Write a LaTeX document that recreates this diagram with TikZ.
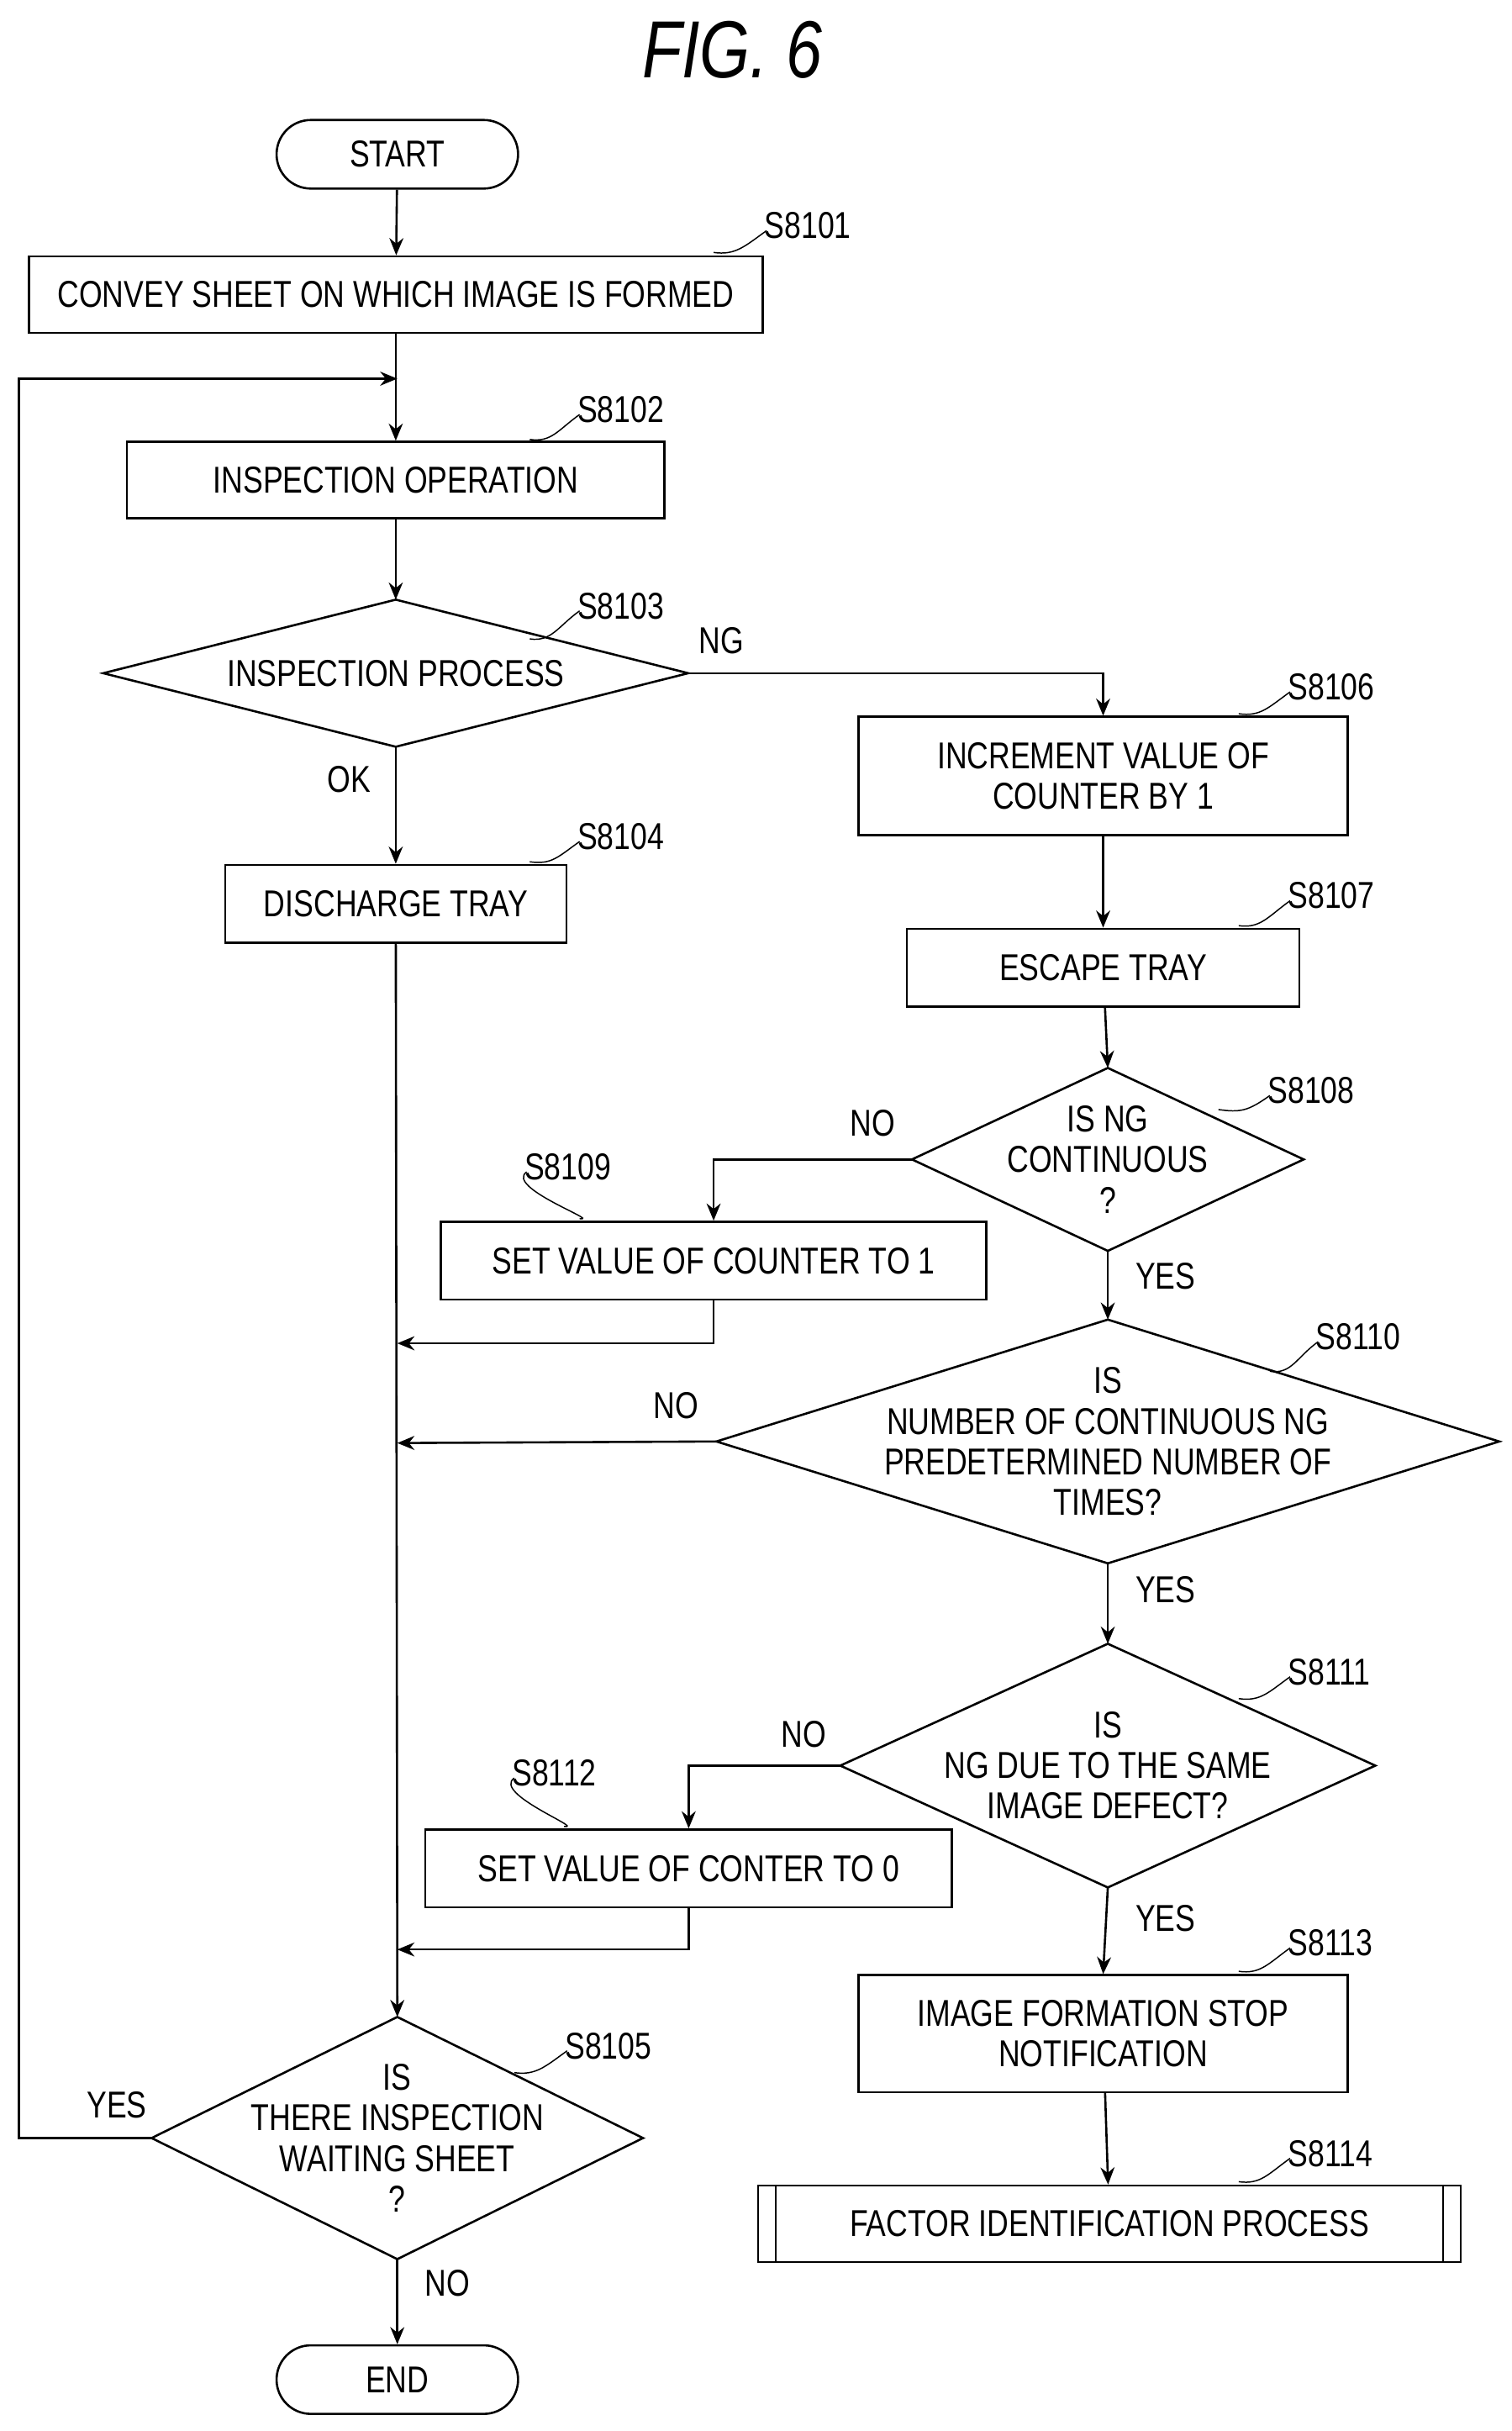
\documentclass[tikz,border=0pt]{standalone}
\usepackage{fontspec}
\setmainfont{Liberation Sans}[FakeStretch=0.8]
\usetikzlibrary{arrows.meta}
\newcommand{\steplbl}[5]{% leader squiggle and step label
  \draw[thin line] (#1,#2) .. controls +(14,2) and +(-14,10) .. (#3,#4);
  \node[anchor=south west,inner sep=0pt] at (#3-2,#4+6) {#5};}
\begin{document}
\begin{tikzpicture}[x=1pt,y=-1pt,line width=1.4pt,
          font=\fontsize{24}{26}\selectfont,
          box/.style = {draw, rectangle, inner sep=0pt, align=center},
          term/.style = {draw, rectangle, rounded corners=22pt, inner sep=0pt,
            minimum width=155pt, minimum height=44pt},
          dec/.style = {rectangle, inner sep=0pt, align=center},
          thin line/.style = {line width=0.8pt},
          arr/.style = {-{Stealth[length=11pt,width=9pt]}},
          lbl/.style = {inner sep=0pt}
          ]
\useasboundingbox (0,0) rectangle (970,1560);
\node[font=\fontsize{52}{54}\selectfont\itshape] (title) at (470,32) {FIG. 6};
% terminals and boxes
\node[term] (start) at (255,99) {START};
\node[box, minimum width=471pt, minimum height=49pt] (s8101) at (254,189) {CONVEY SHEET ON WHICH IMAGE IS FORMED};
\node[box, minimum width=345pt, minimum height=49pt] (s8102) at (254,308) {INSPECTION OPERATION};
\node[dec, minimum width=374pt, minimum height=93pt] (s8103) at (254,432) {INSPECTION PROCESS};
\node[box, minimum width=219pt, minimum height=50pt] (s8104) at (254,580) {DISCHARGE TRAY};
\node[box, minimum width=314pt, minimum height=76pt] (s8106) at (708,498) {INCREMENT VALUE OF\\COUNTER BY 1};
\node[box, minimum width=252pt, minimum height=50pt] (s8107) at (708,621) {ESCAPE TRAY};
\node[dec, minimum width=250pt, minimum height=116pt] (s8108) at (711,744) {IS NG\\CONTINUOUS\\?};
\node[box, minimum width=350pt, minimum height=50pt] (s8109) at (458,809) {SET VALUE OF COUNTER TO 1};
\node[dec, minimum width=501pt, minimum height=155pt] (s8110) at (711,925) {IS\\NUMBER OF CONTINUOUS NG\\PREDETERMINED NUMBER OF\\TIMES?};
\node[dec, minimum width=342pt, minimum height=155pt] (s8111) at (711,1133) {IS\\NG DUE TO THE SAME\\IMAGE DEFECT?};
\node[box, minimum width=338pt, minimum height=50pt] (s8112) at (442,1199) {SET VALUE OF CONTER TO 0};
\node[box, minimum width=314pt, minimum height=75pt] (s8113) at (708,1305) {IMAGE FORMATION STOP\\NOTIFICATION};
\node[box, minimum width=451pt, minimum height=49pt] (s8114) at (712,1427) {FACTOR IDENTIFICATION PROCESS};
\node[dec, minimum width=314pt, minimum height=154pt] (s8105) at (255,1372) {IS\\THERE INSPECTION\\WAITING SHEET\\?};
\node[term] (end) at (255,1527) {END};
% diamonds and subroutine bars
\foreach \d in {s8103,s8108,s8110,s8111,s8105}
  \draw (\d.north) -- (\d.east) -- (\d.south) -- (\d.west) -- cycle;
\draw ([xshift=12pt]s8114.north west) -- ([xshift=12pt]s8114.south west);
\draw ([xshift=-12pt]s8114.north east) -- ([xshift=-12pt]s8114.south east);
% connectors
\coordinate (loop) at (255,243);
\coordinate (j1) at (255,862);
\coordinate (j2) at (255,926);
\coordinate (j3) at (255,1251);
\draw[arr] (start) -- (s8101);
\draw[arr] (s8101) -- (s8102);
\draw[arr] (s8102) -- (s8103.north);
\draw[arr] (s8103.south) -- (s8104);
\draw[arr] (s8103.east) -| (s8106.north);
\draw[arr] (s8106) -- (s8107);
\draw[arr] (s8107) -- (s8108.north);
\draw[arr] (s8108.west) -| (s8109.north);
\draw[arr] (s8108.south) -- (s8110.north);
\draw[arr] (s8110.south) -- (s8111.north);
\draw[arr] (s8111.west) -| (s8112.north);
\draw[arr] (s8111.south) -- (s8113.north);
\draw[arr] (s8113) -- (s8114);
\draw[arr] (s8104) -- (s8105.north);
\draw[arr] (s8109.south) |- (j1);
\draw[arr] (s8110.west) -- (j2);
\draw[arr] (s8112.south) |- (j3);
\draw[arr] (s8105.west) -- (12,1372) |- (loop);
\draw[arr] (s8105.south) -- (end);
% branch labels
\node[lbl] at (463,411) {NG};
\node[lbl] at (224,500) {OK};
\node[lbl] at (560,721) {NO};
\node[lbl] at (748,819) {YES};
\node[lbl] at (434,902) {NO};
\node[lbl] at (748,1020) {YES};
\node[lbl] at (516,1113) {NO};
\node[lbl] at (748,1231) {YES};
\node[lbl] at (75,1351) {YES};
\node[lbl] at (287,1465) {NO};
% step labels
\steplbl{458}{162}{492}{148}{S8101}
\steplbl{340}{282}{372}{266}{S8102}
\steplbl{340}{410}{372}{392}{S8103}
\steplbl{340}{553}{372}{540}{S8104}
\steplbl{795}{458}{828}{444}{S8106}
\steplbl{795}{594}{828}{578}{S8107}
\steplbl{782}{712}{815}{703}{S8108}
\steplbl{372}{782}{338}{752}{S8109}
\steplbl{815}{880}{846}{861}{S8110}
\steplbl{795}{1090}{828}{1076}{S8111}
\steplbl{362}{1172}{330}{1141}{S8112}
\steplbl{795}{1265}{828}{1250}{S8113}
\steplbl{795}{1400}{828}{1385}{S8114}
\steplbl{330}{1330}{364}{1316}{S8105}
\end{tikzpicture}
\end{document}
